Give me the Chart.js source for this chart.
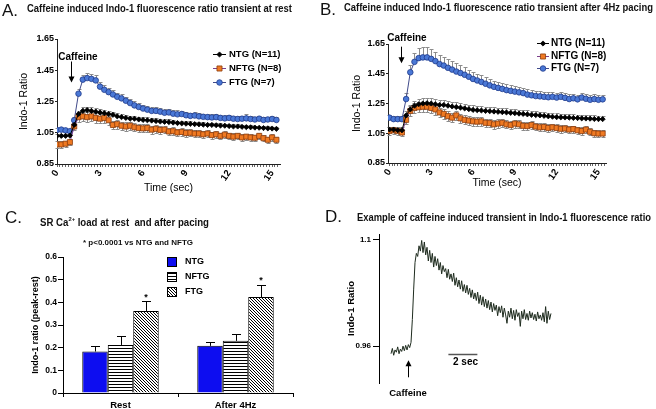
<!DOCTYPE html>
<html>
<head>
<meta charset="utf-8">
<script src="https://cdn.jsdelivr.net/npm/chart.js@4.4.1/dist/chart.umd.min.js"></script>
<style>
  html, body { margin: 0; padding: 0; background: #fff; }
  #page { position: relative; width: 656px; height: 409px; overflow: hidden; }
  canvas { position: absolute; left: 0; top: 0; }
  .tag { position: absolute; font: 17px 'Liberation Sans', Arial, sans-serif; line-height: 17px; color: #111; }
  .head { position: absolute; font: bold 10px 'Liberation Sans Narrow', 'Liberation Sans', Arial, sans-serif;
          line-height: 12px; white-space: nowrap; transform-origin: 0 0; color: #111; }
  .head sup { font-size: 6px; position: relative; top: -1px; }
  .note { font-size: 7.5px; line-height: 9px; }
</style>
</head>
<body>
<div id="page">
  <canvas id="chartA" width="656" height="409"></canvas>
  <canvas id="chartB" width="656" height="409"></canvas>
  <canvas id="chartC" width="656" height="409"></canvas>
  <canvas id="chartD" width="656" height="409"></canvas>

  <div class="tag" style="left:2px;top:2px">A.</div>
  <div class="head" data-w="265" style="left:27px;top:2.5px">Caffeine induced Indo-1 fluorescence ratio transient at rest</div>
  <div class="tag" style="left:320px;top:1px">B.</div>
  <div class="head" data-w="309" style="left:344px;top:2px">Caffeine induced Indo-1 fluorescence ratio transient after 4Hz pacing</div>
  <div class="tag" style="left:5px;top:209px">C.</div>
  <div class="head" data-w="169" style="left:40px;top:214px">SR Ca<sup>2+</sup> load at rest&nbsp; and after pacing</div>
  <div class="head note" data-w="110" style="left:83px;top:238px">* p&lt;0.0001 vs NTG and NFTG</div>
  <div class="tag" style="left:325px;top:207.5px">D.</div>
  <div class="head" data-w="294" style="left:357px;top:212px">Example of caffeine induced transient in Indo-1 fluorescence ratio</div>
</div>

<script>
// ---- values ----
const times = [0, 0.3, 0.6, 0.9, 1.2, 1.5, 1.8, 2.1, 2.4, 2.7, 3, 3.3, 3.6, 3.9, 4.2, 4.5, 4.8, 5.1, 5.4, 5.7,
  6, 6.3, 6.6, 6.9, 7.2, 7.5, 7.8, 8.1, 8.4, 8.7, 9, 9.3, 9.6, 9.9, 10.2, 10.5, 10.8, 11.1, 11.4, 11.7,
  12, 12.3, 12.6, 12.9, 13.2, 13.5, 13.8, 14.1, 14.4, 14.7, 15, 15.3];
const timeMajorTicks = [0, 3, 6, 9, 12, 15];
const ratioTicks = [0.85, 1.05, 1.25, 1.45, 1.65];

// A: at rest
const ntgRest = [1.03, 1.03, 1.03, 1.032, 1.10, 1.17, 1.19, 1.195, 1.19, 1.185,
  1.18, 1.175, 1.17, 1.165, 1.155, 1.15, 1.145, 1.14, 1.14, 1.135,
  1.132, 1.13, 1.128, 1.125, 1.122, 1.12, 1.118, 1.115, 1.112, 1.11,
  1.108, 1.107, 1.105, 1.104, 1.102, 1.10, 1.10, 1.098, 1.096, 1.095,
  1.093, 1.09, 1.09, 1.088, 1.086, 1.085, 1.083, 1.082, 1.08, 1.078, 1.077, 1.075];
const ntgRestErr = [0.01, 0.01, 0.01, 0.01, 0.015, 0.02, 0.022, 0.022, 0.022, 0.022,
  0.022, 0.022, 0.021, 0.021, 0.02, 0.02, 0.02, 0.019, 0.019, 0.019,
  0.018, 0.018, 0.018, 0.018, 0.017, 0.017, 0.017, 0.017, 0.016, 0.016,
  0.016, 0.016, 0.016, 0.015, 0.015, 0.015, 0.015, 0.015, 0.015, 0.014,
  0.014, 0.014, 0.014, 0.014, 0.014, 0.014, 0.013, 0.013, 0.013, 0.013, 0.013, 0.013];
const nftgRest = [0.975, 0.975, 0.98, 0.99, 1.09, 1.15, 1.155, 1.15, 1.155, 1.145,
  1.14, 1.145, 1.13, 1.10, 1.105, 1.095, 1.09, 1.095, 1.085, 1.08,
  1.078, 1.08, 1.07, 1.075, 1.068, 1.07, 1.058, 1.06, 1.052, 1.055,
  1.048, 1.05, 1.045, 1.045, 1.04, 1.045, 1.035, 1.04, 1.03, 1.038,
  1.03, 1.025, 1.03, 1.02, 1.025, 1.02, 1.018, 1.03, 1.015, 1.005, 1.02, 1.005];
const nftgRestErr = [0.02, 0.02, 0.02, 0.02, 0.025, 0.03, 0.03, 0.03, 0.03, 0.03,
  0.03, 0.03, 0.028, 0.028, 0.028, 0.027, 0.027, 0.027, 0.026, 0.026,
  0.026, 0.025, 0.025, 0.025, 0.025, 0.024, 0.024, 0.024, 0.024, 0.023,
  0.023, 0.023, 0.023, 0.022, 0.022, 0.022, 0.022, 0.022, 0.021, 0.021,
  0.021, 0.021, 0.02, 0.02, 0.02, 0.02, 0.02, 0.02, 0.02, 0.02, 0.02, 0.02];
const ftgRest = [1.068, 1.07, 1.065, 1.06, 1.13, 1.30, 1.39, 1.40, 1.395, 1.385,
  1.345, 1.325, 1.31, 1.295, 1.28, 1.27, 1.255, 1.24, 1.225, 1.215,
  1.205, 1.198, 1.19, 1.19, 1.185, 1.178, 1.18, 1.172, 1.168, 1.17,
  1.162, 1.158, 1.16, 1.155, 1.152, 1.15, 1.148, 1.15, 1.145, 1.142,
  1.145, 1.14, 1.138, 1.14, 1.142, 1.138, 1.135, 1.14, 1.132, 1.135, 1.138, 1.132];
const ftgRestErr = [0.012, 0.012, 0.012, 0.012, 0.02, 0.028, 0.03, 0.03, 0.032, 0.032,
  0.03, 0.03, 0.028, 0.028, 0.027, 0.027, 0.026, 0.026, 0.025, 0.025,
  0.025, 0.024, 0.024, 0.024, 0.023, 0.023, 0.023, 0.022, 0.025, 0.022,
  0.022, 0.021, 0.021, 0.021, 0.02, 0.02, 0.02, 0.02, 0.02, 0.02,
  0.02, 0.019, 0.019, 0.019, 0.025, 0.019, 0.019, 0.018, 0.018, 0.018, 0.018, 0.018];

// B: after 4Hz pacing
const ntgPaced = [1.075, 1.075, 1.07, 1.07, 1.17, 1.21, 1.235, 1.245, 1.25, 1.252,
  1.25, 1.245, 1.24, 1.24, 1.235, 1.23, 1.226, 1.222, 1.217, 1.212,
  1.207, 1.205, 1.203, 1.20, 1.198, 1.196, 1.194, 1.192, 1.19, 1.187,
  1.185, 1.182, 1.18, 1.177, 1.174, 1.172, 1.17, 1.167, 1.164, 1.161,
  1.158, 1.157, 1.156, 1.155, 1.153, 1.152, 1.15, 1.149, 1.148, 1.146, 1.145, 1.145];
const ntgPacedErr = [0.02, 0.02, 0.02, 0.02, 0.03, 0.033, 0.034, 0.035, 0.035, 0.035,
  0.034, 0.034, 0.033, 0.033, 0.032, 0.032, 0.031, 0.031, 0.03, 0.03,
  0.03, 0.029, 0.029, 0.029, 0.028, 0.028, 0.028, 0.027, 0.027, 0.027,
  0.027, 0.026, 0.026, 0.026, 0.026, 0.025, 0.025, 0.025, 0.025, 0.025,
  0.025, 0.024, 0.024, 0.024, 0.024, 0.024, 0.024, 0.024, 0.024, 0.024, 0.024, 0.024];
const nftgPaced = [1.065, 1.07, 1.065, 1.055, 1.14, 1.20, 1.22, 1.225, 1.228, 1.228,
  1.22, 1.21, 1.19, 1.18, 1.165, 1.155, 1.17, 1.15, 1.14, 1.135,
  1.13, 1.128, 1.13, 1.12, 1.118, 1.11, 1.115, 1.12, 1.11, 1.105,
  1.115, 1.11, 1.10, 1.098, 1.105, 1.095, 1.09, 1.092, 1.085, 1.09,
  1.085, 1.08, 1.082, 1.075, 1.078, 1.07, 1.065, 1.075, 1.06, 1.05, 1.048, 1.048];
const nftgPacedErr = [0.025, 0.025, 0.025, 0.025, 0.03, 0.035, 0.035, 0.035, 0.035, 0.035,
  0.034, 0.034, 0.033, 0.033, 0.032, 0.032, 0.032, 0.031, 0.031, 0.03,
  0.03, 0.03, 0.03, 0.029, 0.029, 0.029, 0.028, 0.028, 0.028, 0.028,
  0.027, 0.027, 0.027, 0.027, 0.026, 0.026, 0.026, 0.026, 0.025, 0.025,
  0.025, 0.025, 0.025, 0.024, 0.024, 0.024, 0.024, 0.024, 0.024, 0.023, 0.023, 0.023];
const ftgPaced = [1.155, 1.145, 1.145, 1.145, 1.28, 1.46, 1.53, 1.555, 1.56, 1.56,
  1.55, 1.535, 1.515, 1.505, 1.49, 1.478, 1.465, 1.455, 1.443, 1.43,
  1.415, 1.405, 1.395, 1.383, 1.372, 1.362, 1.355, 1.348, 1.34, 1.335,
  1.33, 1.325, 1.32, 1.31, 1.305, 1.30, 1.298, 1.295, 1.292, 1.295,
  1.29, 1.295, 1.288, 1.28, 1.285, 1.278, 1.29, 1.282, 1.275, 1.28, 1.275, 1.278];
const ftgPacedErr = [0.02, 0.02, 0.02, 0.02, 0.04, 0.05, 0.06, 0.065, 0.067, 0.067,
  0.066, 0.064, 0.062, 0.06, 0.058, 0.056, 0.054, 0.052, 0.05, 0.048,
  0.046, 0.045, 0.044, 0.043, 0.042, 0.041, 0.04, 0.039, 0.038, 0.037,
  0.036, 0.036, 0.035, 0.035, 0.034, 0.034, 0.034, 0.033, 0.033, 0.033,
  0.033, 0.033, 0.032, 0.032, 0.032, 0.032, 0.032, 0.032, 0.031, 0.031, 0.031, 0.031];

// C: SR Ca load (peak - rest)
const conditions = ['Rest', 'After 4Hz'];
const ntgLoad = [0.183, 0.208];
const ntgLoadErr = [0.023, 0.018];
const nftgLoad = [0.212, 0.230];
const nftgLoadErr = [0.04, 0.031];
const ftgLoad = [0.362, 0.423];
const ftgLoadErr = [0.042, 0.055];
const loadTicks = [0, 0.1, 0.2, 0.3, 0.4, 0.5, 0.6];

// D: single cell example trace
const caffeineTrace = [0.950, 0.957, 0.948, 0.955, 0.952, 0.959, 0.950, 0.956, 0.953, 0.960,
  0.954, 0.961, 0.955, 0.962, 0.958, 0.965, 0.995, 1.035, 1.070, 1.082,
  1.078, 1.092, 1.085, 1.099, 1.083, 1.097, 1.080, 1.090, 1.072, 1.086,
  1.070, 1.082, 1.064, 1.078, 1.066, 1.075, 1.060, 1.070, 1.055, 1.066,
  1.058, 1.062, 1.050, 1.061, 1.048, 1.055, 1.045, 1.056, 1.040, 1.050,
  1.038, 1.047, 1.035, 1.046, 1.032, 1.041, 1.030, 1.040, 1.028, 1.036,
  1.024, 1.034, 1.022, 1.030, 1.020, 1.031, 1.016, 1.027, 1.014, 1.025,
  1.012, 1.022, 1.010, 1.020, 1.008, 1.018, 1.005, 1.016, 1.007, 1.014,
  1.000, 1.012, 1.004, 1.013, 0.998, 1.010, 1.001, 0.990, 1.006, 0.998,
  1.010, 0.996, 1.007, 0.994, 1.008, 0.999, 1.004, 0.986, 1.006, 0.996,
  1.008, 0.995, 1.003, 0.994, 1.006, 0.997, 1.004, 0.995, 1.002, 0.993,
  1.005, 0.996, 1.001, 0.994, 1.004, 0.992, 1.012, 0.990, 1.006, 0.995, 1.003];
const traceTicks = [0.96, 1.1];
const TRACE_DT = 0.092; // seconds per sample

// ---- look ----
const FONT = "'Liberation Sans Narrow', 'Liberation Sans', Arial, sans-serif";
const PLAIN = "'Liberation Sans', Arial, sans-serif";
Chart.defaults.font.family = FONT;
Chart.defaults.color = '#000';
Chart.defaults.animation = false;
Chart.defaults.responsive = false;
Chart.defaults.devicePixelRatio = 1;
Chart.defaults.plugins.legend.display = false;
Chart.defaults.plugins.tooltip.enabled = false;

const STYLE = {
  ntg:  { borderColor: '#000', pointStyle: 'rectRot', pointRadius: 2.6, pointBackgroundColor: '#000', pointBorderColor: '#000' },
  nftg: { borderColor: '#7b3f8c', pointStyle: 'rect', pointRadius: 3.6, pointBackgroundColor: '#f07a22', pointBorderColor: '#8a3b0c' },
  ftg:  { borderColor: '#404a8a', pointStyle: 'circle', pointRadius: 2.8, pointBackgroundColor: '#4a78d6', pointBorderColor: '#1f3a8a' },
};

function marker(ctx, ds, x, y) {
  const r = ds.pointRadius;
  ctx.beginPath();
  if (ds.pointStyle === 'circle') {
    ctx.arc(x, y, r, 0, Math.PI * 2);
  } else if (ds.pointStyle === 'rect') {
    const h = r * Math.SQRT1_2;
    ctx.rect(x - h, y - h, 2 * h, 2 * h);
  } else {
    ctx.moveTo(x, y - r); ctx.lineTo(x + r, y); ctx.lineTo(x, y + r); ctx.lineTo(x - r, y); ctx.closePath();
  }
  ctx.fill();
  ctx.stroke();
}

// ---- plugins ----
const errorBars = {
  id: 'errorBars',
  beforeDatasetsDraw(chart, args, o) {
    const { ctx, scales: { y } } = chart;
    chart.data.datasets.forEach((ds, di) => {
      if (!ds.errors) return;
      const meta = chart.getDatasetMeta(di);
      ctx.save();
      ctx.strokeStyle = o.color;
      ctx.lineWidth = 1;
      ctx.beginPath();
      meta.data.forEach((el, i) => {
        const v = ds.data[i], e = ds.errors[i];
        const x = Math.round(el.x) + 0.5;
        const hi = Math.round(y.getPixelForValue(v + e)) + 0.5;
        ctx.moveTo(x, el.y); ctx.lineTo(x, hi);
        ctx.moveTo(x - o.cap, hi); ctx.lineTo(x + o.cap, hi);
        if (ds.errorsBelow) {
          const lo = Math.round(y.getPixelForValue(v - e)) + 0.5;
          ctx.moveTo(x, el.y); ctx.lineTo(x, lo);
          ctx.moveTo(x - o.cap, lo); ctx.lineTo(x + o.cap, lo);
        }
      });
      ctx.stroke();
      ctx.restore();
    });
  }
};

const seriesKey = {
  id: 'seriesKey',
  afterDraw(chart, args, o) {
    const ctx = chart.ctx;
    chart.data.datasets.forEach((ds, i) => {
      const y = Math.round(o.y + i * o.dy) + 0.5;
      ctx.save();
      ctx.strokeStyle = ds.borderColor;
      ctx.lineWidth = 1;
      ctx.beginPath(); ctx.moveTo(o.x, y); ctx.lineTo(o.x + o.len, y); ctx.stroke();
      ctx.fillStyle = ds.pointBackgroundColor;
      ctx.strokeStyle = ds.pointBorderColor;
      ctx.lineWidth = 0.8;
      marker(ctx, ds, o.x + o.len / 2, y);
      ctx.fillStyle = '#000';
      ctx.font = `bold ${o.size}px ${FONT}`;
      ctx.textBaseline = 'middle';
      ctx.fillText(ds.label, o.x + o.len + o.gap, y);
      ctx.restore();
    });
  }
};

const cueMark = {
  id: 'cueMark',
  afterDraw(chart, args, o) {
    const { ctx, scales: { x, y } } = chart;
    const px = Math.round(x.getPixelForValue(o.at)) + 0.5;
    const y0 = y.getPixelForValue(o.from), y1 = y.getPixelForValue(o.to);
    const dir = Math.sign(y1 - y0);
    ctx.save();
    ctx.strokeStyle = '#000'; ctx.fillStyle = '#000'; ctx.lineWidth = 1;
    ctx.beginPath(); ctx.moveTo(px, y0); ctx.lineTo(px, y1 - dir * 4); ctx.stroke();
    ctx.beginPath();
    ctx.moveTo(px - 3, y1 - dir * 6); ctx.lineTo(px + 3, y1 - dir * 6); ctx.lineTo(px, y1);
    ctx.closePath(); ctx.fill();
    ctx.font = `bold ${o.size}px ${FONT}`;
    ctx.textAlign = 'center'; ctx.textBaseline = 'middle';
    ctx.fillText(o.text, x.getPixelForValue(o.textAt), y.getPixelForValue(o.textY));
    ctx.restore();
  }
};

const timeBar = {
  id: 'timeBar',
  afterDraw(chart, args, o) {
    const { ctx, scales: { x, y } } = chart;
    const yy = Math.round(y.getPixelForValue(o.level)) + 0.5;
    ctx.save();
    ctx.strokeStyle = '#555'; ctx.lineWidth = 1.5;
    ctx.beginPath(); ctx.moveTo(x.getPixelForValue(o.start), yy); ctx.lineTo(x.getPixelForValue(o.start + o.length), yy); ctx.stroke();
    ctx.fillStyle = '#000';
    ctx.font = `bold ${o.size}px ${FONT}`;
    ctx.textAlign = 'center'; ctx.textBaseline = 'middle';
    ctx.fillText(o.text, x.getPixelForValue(o.textAt), y.getPixelForValue(o.textY));
    ctx.restore();
  }
};

const boxKey = {
  id: 'boxKey',
  afterDraw(chart, args, o) {
    const ctx = chart.ctx;
    chart.data.datasets.forEach((ds, i) => {
      const top = Math.round(o.y + i * o.dy) + 0.5;
      ctx.save();
      ctx.fillStyle = ds.backgroundColor;
      ctx.fillRect(o.x, top, o.size, o.size);
      ctx.strokeStyle = '#000'; ctx.lineWidth = 1;
      ctx.strokeRect(o.x + 0.5, top, o.size, o.size);
      ctx.fillStyle = '#000';
      ctx.font = `bold ${o.font}px ${FONT}`;
      ctx.textBaseline = 'middle';
      ctx.fillText(ds.label, o.x + o.size + o.gap, top + o.size / 2);
      ctx.restore();
    });
  }
};

const stars = {
  id: 'stars',
  afterDatasetsDraw(chart, args, o) {
    const { ctx, scales: { y } } = chart;
    const ds = chart.data.datasets[o.dataset];
    chart.getDatasetMeta(o.dataset).data.forEach((el, i) => {
      ctx.save();
      ctx.fillStyle = '#000';
      ctx.font = `bold 9px ${PLAIN}`;
      ctx.textAlign = 'center'; ctx.textBaseline = 'alphabetic';
      ctx.fillText('*', el.x, y.getPixelForValue(ds.data[i] + ds.errors[i]) - o.lift);
      ctx.restore();
    });
  }
};

// ---- A and B: time courses ----
function traceDatasets(ntg, ntgErr, nftg, nftgErr, ftg, ftgErr) {
  const common = { borderWidth: 1, pointBorderWidth: 0.8, tension: 0, fill: false };
  return [
    Object.assign({ label: 'NTG (N=11)', data: ntg, errors: ntgErr }, common, STYLE.ntg),
    Object.assign({ label: 'NFTG (N=8)', data: nftg, errors: nftgErr, errorsBelow: true }, common, STYLE.nftg),
    Object.assign({ label: 'FTG (N=7)', data: ftg, errors: ftgErr }, common, STYLE.ftg),
  ];
}

function timeCourse(id, datasets, p) {
  return new Chart(document.getElementById(id), {
    type: 'line',
    data: { labels: times, datasets: datasets },
    plugins: [errorBars, seriesKey, cueMark],
    options: {
      layout: { padding: p.padding },
      plugins: {
        errorBars: { color: '#8c8c8c', cap: 2 },
        seriesKey: p.key,
        cueMark: p.cue
      },
      scales: {
        x: {
          type: 'linear', min: p.xMin, max: p.xMax,
          afterBuildTicks: s => {
            const t = [];
            for (let k = 0; k / 5 <= 15.4; k++) t.push({ value: k / 5 });
            s.ticks = t;
          },
          afterFit: s => { s.height = 36; s.paddingLeft = 0; s.paddingRight = 0; },
          ticks: {
            autoSkip: false, minRotation: 55, maxRotation: 55, padding: 1,
            font: { size: 9.5, weight: 'bold' },
            callback: v => timeMajorTicks.includes(v) ? String(v) : ''
          },
          grid: { drawOnChartArea: false, tickLength: 3, color: '#666' },
          border: { color: '#222' },
          title: { display: true, text: 'Time (sec)', font: { size: 10.5, family: PLAIN }, padding: { top: 0, bottom: p.xTitlePad } }
        },
        y: {
          min: 0.85, max: 1.65,
          afterBuildTicks: s => { s.ticks = ratioTicks.map(v => ({ value: v })); },
          afterFit: s => { s.width = 45; },
          ticks: { padding: 1, font: { size: 9, weight: 'bold' }, callback: v => v.toFixed(2) },
          grid: { drawOnChartArea: false, tickLength: 2, color: '#222' },
          border: { color: '#222' },
          title: { display: true, text: 'Indo-1 Ratio', font: { size: 10.5, family: PLAIN }, padding: { top: p.yTitlePad, bottom: 0 } }
        }
      }
    }
  });
}

timeCourse('chartA', traceDatasets(ntgRest, ntgRestErr, nftgRest, nftgRestErr, ftgRest, ftgRestErr), {
  padding: { left: 12, top: 39, right: 376, bottom: 209 },
  xMin: 0, xMax: 15.55, xTitlePad: 5.5, yTitlePad: 5.5,
  key: { x: 213, y: 53.5, dy: 14.2, len: 13, gap: 3, size: 9.5 },
  cue: { at: 1.0, from: 1.506, to: 1.371, text: 'Caffeine', textAt: 1.46, textY: 1.531, size: 10 }
});

timeCourse('chartB', traceDatasets(ntgPaced, ntgPacedErr, nftgPaced, nftgPacedErr, ftgPaced, ftgPacedErr), {
  padding: { left: 343, top: 44, right: 50, bottom: 210 },
  xMin: -0.1, xMax: 15.54, xTitlePad: 9.5, yTitlePad: 8,
  key: { x: 537, y: 42.7, dy: 12.8, len: 12, gap: 2, size: 10 },
  cue: { at: 0.81, from: 1.632, to: 1.52, text: 'Caffeine', textAt: 1.26, textY: 1.688, size: 10 }
});

// ---- C: bars ----
function fillPattern(kind) {
  const c = document.createElement('canvas');
  const p = c.getContext('2d');
  c.width = 3; c.height = 3;
  p.fillStyle = '#fff'; p.fillRect(0, 0, 3, 3);
  p.fillStyle = '#000';
  if (kind === 'stripes') p.fillRect(0, 0, 3, 1);
  else for (let i = 0; i < 3; i++) p.fillRect(i, i, 1, 1);
  return document.getElementById('chartC').getContext('2d').createPattern(c, 'repeat');
}

new Chart(document.getElementById('chartC'), {
  type: 'bar',
  data: {
    labels: conditions,
    datasets: [
      { label: 'NTG', data: ntgLoad, errors: ntgLoadErr, backgroundColor: '#0d0df0' },
      { label: 'NFTG', data: nftgLoad, errors: nftgLoadErr, backgroundColor: fillPattern('stripes') },
      { label: 'FTG', data: ftgLoad, errors: ftgLoadErr, backgroundColor: fillPattern('hatch') }
    ]
  },
  plugins: [errorBars, boxKey, stars],
  options: {
    layout: { padding: { left: 23, top: 257, right: 363, bottom: 0 } },
    datasets: { bar: { categoryPercentage: 0.665, barPercentage: 1, borderColor: '#000', borderWidth: 1 } },
    plugins: {
      errorBars: { color: '#000', cap: 4.5 },
      boxKey: { x: 167, y: 256.5, dy: 15, size: 9, gap: 9, font: 9 },
      stars: { dataset: 2, lift: 1.5 }
    },
    scales: {
      x: {
        afterFit: s => { s.height = 16; },
        ticks: { font: { size: 9.5, weight: 'bold' }, padding: 3 },
        grid: { drawOnChartArea: false, tickLength: 4, color: '#000' },
        border: { color: '#000' }
      },
      y: {
        min: 0, max: 0.6,
        afterBuildTicks: s => { s.ticks = loadTicks.map(v => ({ value: v })); },
        afterFit: s => { s.width = 40; },
        ticks: { font: { size: 8.5, weight: 'bold' }, padding: 1, callback: v => v === 0 ? '0' : v.toFixed(1) },
        grid: { drawOnChartArea: false, tickLength: 5, color: '#000' },
        border: { color: '#000' },
        title: { display: true, text: 'Indo-1 ratio (peak-rest)', font: { size: 9, weight: 'bold' }, padding: { top: 7.5, bottom: 0 } }
      }
    }
  }
});

// ---- D: example trace ----
new Chart(document.getElementById('chartD'), {
  type: 'line',
  data: {
    labels: caffeineTrace.map((_, i) => i * TRACE_DT),
    datasets: [{ data: caffeineTrace, borderColor: '#1e2b1e', borderWidth: 1, pointRadius: 0, tension: 0 }]
  },
  plugins: [timeBar, cueMark],
  options: {
    layout: { padding: { left: 340, top: 234, right: 92, bottom: 26 } },
    plugins: {
      timeBar: { start: 3.96, length: 2, level: 0.9494, text: '2 sec', textAt: 5.14, textY: 0.9393, size: 10 },
      cueMark: { at: 1.17, from: 0.919, to: 0.9415, text: 'Caffeine', textAt: 1.17, textY: 0.898, size: 9.5 }
    },
    scales: {
      x: { type: 'linear', display: false, min: -0.83, max: 11.94 },
      y: {
        min: 0.9115, max: 1.1075,
        afterBuildTicks: s => { s.ticks = traceTicks.map(v => ({ value: v })); },
        afterFit: s => { s.width = 39; },
        ticks: { font: { size: 8, weight: 'bold' }, padding: 2, callback: v => String(v) },
        grid: { drawOnChartArea: false, tickLength: 6, color: '#000' },
        border: { color: '#000' },
        title: { display: true, text: 'Indo-1 Ratio', font: { size: 9.5, weight: 'bold' }, padding: { top: 5.5, bottom: 0 } }
      }
    }
  }
});

// squeeze the heading lines to the widths they take in the figure
document.querySelectorAll('[data-w]').forEach(el => {
  const w = el.getBoundingClientRect().width;
  el.style.transform = `scaleX(${Number(el.dataset.w) / w})`;
});
</script>
</body>
</html>
